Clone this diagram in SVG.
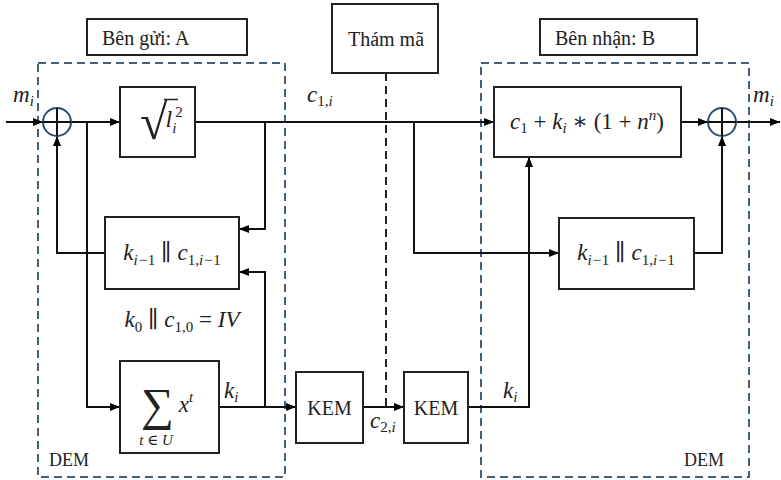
<svg xmlns="http://www.w3.org/2000/svg" width="781" height="480" viewBox="0 0 781 480" font-family="'Liberation Serif', 'DejaVu Serif', serif">
<defs>
<marker id="ah" viewBox="0 0 10 8" refX="10" refY="4" markerWidth="10" markerHeight="8" markerUnits="userSpaceOnUse" orient="auto">
<path d="M0,0 L10,4 L0,8 z" fill="#000"/>
</marker>
<style>
.box{fill:#fff;stroke:#222;stroke-width:2}
.dash{fill:none;stroke:#44607a;stroke-width:2;stroke-dasharray:8,5}
.ln{fill:none;stroke:#111;stroke-width:2}
.arr{fill:none;stroke:#111;stroke-width:2;marker-end:url(#ah)}
.lbl{font-family:'Liberation Serif','Times New Roman',serif;font-size:20px;fill:#222}
.m{font-style:italic;font-size:23px;fill:#222}
.sub{font-size:15px}
.up{font-style:normal}
.circ{fill:none;stroke:#2e4e6e;stroke-width:2}
</style>
</defs>
<g id="regionA"><rect class="dash" x="38" y="63" width="247" height="414"/><text class="lbl" x="49" y="466" style="font-size:18px">DEM</text></g>
<g id="regionB"><rect class="dash" x="481" y="63" width="268" height="414"/><text class="lbl" x="684" y="466" style="font-size:18px">DEM</text></g>
<g id="labelA"><rect class="box" x="87" y="19" width="160" height="36"/><text class="lbl" x="102" y="45">Bên gửi: A</text></g>
<g id="labelB"><rect class="box" x="540" y="19" width="157" height="36"/><text class="lbl" x="555" y="45">Bên nhận: B</text></g>
<g id="attacker"><rect class="box" x="332" y="4" width="106" height="69"/><text class="lbl" x="386" y="46" text-anchor="middle">Thám mã</text></g>
<g id="connectors">
<line class="dash" x1="386" y1="73" x2="386" y2="407" style="stroke:#222"/>
<line class="arr" x1="6" y1="122" x2="43" y2="122"/>
<line class="arr" x1="71" y1="122" x2="120" y2="122"/>
<line class="arr" x1="195" y1="122" x2="494" y2="122"/>
<line class="arr" x1="681" y1="122" x2="708" y2="122"/>
<line class="arr" x1="736" y1="122" x2="780" y2="122"/>
<polyline class="arr" points="87,122 87,407 120,407"/>
<polyline class="arr" points="265,122 265,229 239,229"/>
<polyline class="arr" points="105,253 57,253 57,136"/>
<line class="arr" x1="219" y1="407" x2="296" y2="407"/>
<polyline class="arr" points="265,407 265,272 239,272"/>
<line class="arr" x1="363" y1="407" x2="404" y2="407"/>
<polyline class="arr" points="468,407 529,407 529,157"/>
<polyline class="arr" points="414,122 414,253 559,253"/>
<polyline class="arr" points="694,253 722,253 722,136"/>
</g>
<g id="xorA"><circle class="circ" cx="57" cy="122" r="14"/><line class="ln" x1="43" y1="122" x2="71" y2="122"/><line class="ln" x1="57" y1="108" x2="57" y2="136"/></g>
<g id="xorB"><circle class="circ" cx="722" cy="122" r="14"/><line class="ln" x1="708" y1="122" x2="736" y2="122"/><line class="ln" x1="722" y1="108" x2="722" y2="136"/></g>
<g id="sqrt"><rect class="box" x="120" y="87" width="75" height="70"/>
<line x1="164" y1="99.5" x2="178" y2="99.5" stroke="#222" stroke-width="1.5"/>
<text class="m" x="140" y="139"><tspan class="up" style="font-size:50px">√</tspan><tspan dx="-2" dy="-12" style="font-size:24px">l</tspan><tspan class="sub" dy="6">i</tspan><tspan class="sub up" dx="-1" dy="-16">2</tspan></text>
</g>
<g id="c1box"><rect class="box" x="494" y="87" width="187" height="70"/>
<text class="m" x="587" y="129" text-anchor="middle">c<tspan class="sub up" dy="4">1</tspan><tspan class="up" dy="-4"> + </tspan>k<tspan class="sub" dy="4">i</tspan><tspan class="up" dy="-4"> ∗ (1 + </tspan>n<tspan class="sub" dy="-9">n</tspan><tspan class="up" dy="9">)</tspan></text>
</g>
<g id="stateA"><rect class="box" x="105" y="217" width="134" height="72"/>
<text class="m" x="172" y="260" text-anchor="middle">k<tspan class="sub" dy="5">i−<tspan class="up">1</tspan></tspan><tspan class="up" dy="-5"> ∥ </tspan>c<tspan class="sub" dy="5"><tspan class="up">1,</tspan>i−<tspan class="up">1</tspan></tspan></text>
</g>
<g id="stateB"><rect class="box" x="559" y="218" width="135" height="71"/>
<text class="m" x="626" y="260" text-anchor="middle">k<tspan class="sub" dy="5">i−<tspan class="up">1</tspan></tspan><tspan class="up" dy="-5"> ∥ </tspan>c<tspan class="sub" dy="5"><tspan class="up">1,</tspan>i−<tspan class="up">1</tspan></tspan></text>
</g>
<g id="iv"><text class="m" x="182" y="327" text-anchor="middle">k<tspan class="sub up" dy="5">0</tspan><tspan class="up" dy="-5">  ∥ </tspan>c<tspan class="sub up" dy="5">1,0</tspan><tspan class="up" dy="-5"> = </tspan>IV</text></g>
<g id="sum"><rect class="box" x="120" y="361" width="99" height="92"/>
<text class="m" x="141" y="420"><tspan class="up" style="font-size:46px">∑</tspan><tspan dx="5" dy="-8">x</tspan><tspan class="sub" dy="-10">t</tspan></text>
<text class="m" x="156" y="445" text-anchor="middle" style="font-size:15px">t <tspan class="up">∈</tspan> U</text>
</g>
<g id="kem1"><rect class="box" x="296" y="372" width="67" height="71"/><text class="lbl" x="329.5" y="415" text-anchor="middle">KEM</text></g>
<g id="kem2"><rect class="box" x="404" y="372" width="64" height="71"/><text class="lbl" x="436" y="415" text-anchor="middle">KEM</text></g>
<g id="labels">
<text class="m" x="13" y="102">m<tspan class="sub" dy="4">i</tspan></text>
<text class="m" x="753" y="102">m<tspan class="sub" dy="4">i</tspan></text>
<text class="m" x="307" y="102">c<tspan class="sub" dy="4"><tspan class="up">1,</tspan>i</tspan></text>
<text class="m" x="224" y="398">k<tspan class="sub" dy="4">i</tspan></text>
<text class="m" x="503" y="398">k<tspan class="sub" dy="4">i</tspan></text>
<text class="m" x="370" y="428">c<tspan class="sub" dy="4"><tspan class="up">2,</tspan>i</tspan></text>
</g>
</svg>
